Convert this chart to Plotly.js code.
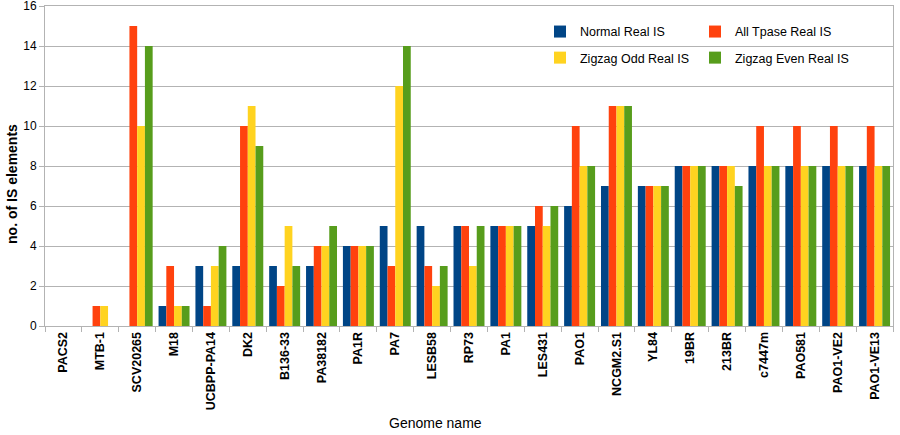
<!DOCTYPE html>
<html>
<head>
<meta charset="utf-8">
<script src="https://cdn.plot.ly/plotly-3.0.1.min.js"></script>
<style>
  html, body { margin: 0; padding: 0; background: #fff; }
  #chart { width: 900px; height: 435px; }
</style>
</head>
<body>
<div id="chart"></div>
<script>
// Insertion sequence (IS) element counts per genome
const genomes = ["PACS2", "MTB-1", "SCV20265", "M18", "UCBPP-PA14", "DK2", "B136-33",
  "PA38182", "PA1R", "PA7", "LESB58", "RP73", "PA1", "LES431", "PAO1", "NCGM2.S1",
  "YL84", "19BR", "213BR", "c7447m", "PAO581", "PAO1-VE2", "PAO1-VE13"];

const normalReal   = [0, 0, 0, 1, 3, 3, 3, 3, 4, 5, 5, 5, 5, 5, 6, 7, 7, 8, 8, 8, 8, 8, 8];
const allTpaseReal = [0, 1, 15, 3, 1, 10, 2, 4, 4, 3, 3, 5, 5, 6, 10, 11, 7, 8, 8, 10, 10, 10, 10];
const zigzagOdd    = [0, 1, 10, 1, 3, 11, 5, 4, 4, 12, 2, 3, 5, 5, 8, 11, 7, 8, 8, 8, 8, 8, 8];
const zigzagEven   = [0, 0, 14, 1, 4, 9, 3, 5, 4, 14, 3, 5, 5, 6, 8, 11, 7, 8, 7, 8, 8, 8, 8];

const yTicks = [0, 2, 4, 6, 8, 10, 12, 14, 16];

const xTitle = "Genome name";
const yTitle = "no. of IS elements";

const series = [
  { name: "Normal Real IS",      y: normalReal,   color: "#004586", legend: "legend"  },
  { name: "All Tpase Real IS",   y: allTpaseReal, color: "#ff420e", legend: "legend"  },
  { name: "Zigzag Odd Real IS",  y: zigzagOdd,    color: "#ffd320", legend: "legend2" },
  { name: "Zigzag Even Real IS", y: zigzagEven,   color: "#579d1c", legend: "legend2" }
];

const traces = series.map(s => ({
  type: "bar",
  name: s.name,
  x: genomes,
  y: s.y,
  legend: s.legend,
  marker: { color: s.color, line: { width: 0 } },
  hoverinfo: "skip"
}));

const font = "Liberation Sans, Arial, sans-serif";

// Two legend rows laid out as a 2x2 grid in the upper right of the plot
const legendCommon = {
  orientation: "h",
  xref: "paper",
  yref: "paper",
  xanchor: "left",
  yanchor: "middle",
  bgcolor: "rgba(0,0,0,0)",
  borderwidth: 0,
  entrywidth: 110,
  entrywidthmode: "pixels",
  itemwidth: 30,
  font: { family: font, size: 12.5, color: "#000" },
  traceorder: "normal"
};

const layout = {
  width: 900,
  height: 435,
  margin: { l: 45, r: 7, t: 6, b: 109 },
  paper_bgcolor: "#fff",
  plot_bgcolor: "#fff",
  font: { family: font, size: 12, color: "#000" },
  barmode: "group",
  bargap: 0.16,
  bargroupgap: 0,
  showlegend: true,
  legend: Object.assign({}, legendCommon, { x: 0.5837, y: 0.919 }),
  legend2: Object.assign({}, legendCommon, { x: 0.5837, y: 0.8375 }),
  xaxis: {
    type: "category",
    tickson: "boundaries",
    ticks: "outside",
    ticklen: 5,
    tickcolor: "#b3b3b3",
    tickangle: -90,
    tickfont: { family: font, size: 12.5, color: "#000", weight: "bold" },
    showgrid: false,
    showline: true,
    linecolor: "#b3b3b3",
    mirror: true,
    automargin: false
  },
  yaxis: {
    range: [0, 16],
    tickvals: yTicks,
    ticktext: yTicks.map(String),
    ticks: "outside",
    ticklen: 5,
    tickcolor: "#b3b3b3",
    tickfont: { family: font, size: 12, color: "#000" },
    ticklabeloverflow: "allow",
    showgrid: true,
    gridcolor: "#b3b3b3",
    gridwidth: 1,
    zeroline: false,
    showline: true,
    linecolor: "#b3b3b3",
    mirror: true,
    automargin: false
  },
  // Axis titles placed as annotations so they can sit off the plot centre
  annotations: [
    {
      text: xTitle,
      xref: "paper", yref: "paper",
      x: 0.46, y: -0.303,
      xanchor: "center", yanchor: "middle",
      showarrow: false,
      font: { family: font, size: 14, color: "#000" }
    },
    {
      text: yTitle,
      xref: "paper", yref: "paper",
      x: -0.0389, y: 0.444,
      xanchor: "center", yanchor: "middle",
      textangle: -90,
      showarrow: false,
      font: { family: font, size: 14, color: "#000", weight: "bold" }
    }
  ]
};

Plotly.newPlot("chart", traces, layout, { displayModeBar: false, staticPlot: true });
</script>
</body>
</html>
